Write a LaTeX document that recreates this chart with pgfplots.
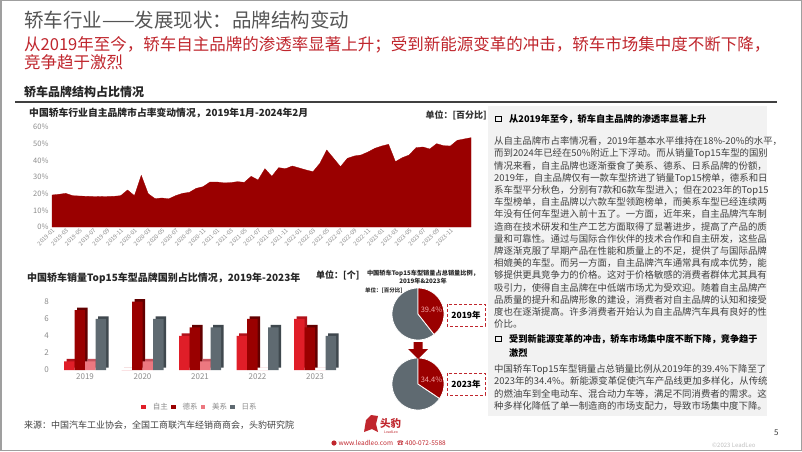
\documentclass[border=0pt]{standalone}
\usepackage{fontspec}
\setmainfont{Noto Sans CJK SC}
\usepackage{pgfplots}
\pgfplotsset{compat=1.18}
\XeTeXlinebreaklocale "zh"
\definecolor{areared}{HTML}{9A0000}
\definecolor{zizhu}{HTML}{E01E28}
\definecolor{zizhuside}{HTML}{B0121A}
\definecolor{dexi}{HTML}{9A0000}
\definecolor{dexiside}{HTML}{620000}
\definecolor{meixi}{HTML}{EC7880}
\definecolor{meixiside}{HTML}{C8545E}
\definecolor{rixi}{HTML}{5F6A71}
\definecolor{rixiside}{HTML}{3F484E}
\definecolor{titlegray}{HTML}{555555}
\definecolor{subred}{HTML}{C0262D}
\definecolor{boxgray}{HTML}{F2F2F2}
\definecolor{tickgray}{HTML}{8C8C8C}
\definecolor{textgray}{HTML}{404040}
\definecolor{pielabel}{HTML}{F4A6A6}
\pgfplotsset{sq legend/.style={legend image code/.code={\fill[##1] (0pt,-2.3pt) rectangle (4.6pt,2.3pt);}}}
\newcommand{\pl}[3][494]{\node[anchor=base west, inner sep=0, font=\fontsize{9.4}{10}\selectfont, text=textgray] at (#1, {451-#2-3.6}) {#3};}
\newcommand{\bl}[3][509]{\node[anchor=base west, inner sep=0, font=\bfseries\fontsize{9.2}{10}\selectfont, text=black] at (#1, {451-#2-3.5}) {#3};}
\begin{document}
\begin{tikzpicture}[x=1pt,y=1pt]
\path[use as bounding box] (0,0) rectangle (802,451);
\fill[white] (0,0) rectangle (802,451);
\draw[gray!75, line width=1.5pt] (0.75,0.75) rectangle (801.25,450.25);
% titles
\node[anchor=base west, inner sep=0, font=\fontsize{19.5}{20}\selectfont, text=titlegray] at (24, {451-27.4}) {轿车行业——发展现状：品牌结构变动};
\node[anchor=base west, inner sep=0, font=\fontsize{16.5}{17}\selectfont, text=subred] at (24, {451-50.3}) {从2019年至今，轿车自主品牌的渗透率显著上升；受到新能源变革的冲击，轿车市场集中度不断下降，};
\node[anchor=base west, inner sep=0, font=\fontsize{16.5}{17}\selectfont, text=subred] at (24, {451-68.3}) {竞争趋于激烈};
\node[anchor=base west, inner sep=0, font=\bfseries\fontsize{12}{12}\selectfont, text=black!85] at (24, {451-96.5}) {轿车品牌结构占比情况};
\draw[line width=1.3pt, black!75] (15, {451-102}) -- (777, {451-102});
% right text box
\fill[boxgray] (488, {451-106}) rectangle (767, {451-416});
\draw[black, line width=1pt] (495.5, {451-116}) rectangle (501, {451-121.5});
\bl{119}{从2019年至今，轿车自主品牌的渗透率显著上升}
\pl{141}{从自主品牌市占率情况看，2019年基本水平维持在18\%-20\%的水平，}
\pl{153.2}{而到2024年已经在50\%附近上下浮动。而从销量Top15车型的国别}
\pl{165.4}{情况来看，自主品牌也逐渐蚕食了美系、德系、日系品牌的份额，}
\pl{177.6}{2019年，自主品牌仅有一款车型挤进了销量Top15榜单，德系和日}
\pl{189.8}{系车型平分秋色，分别有7款和6款车型进入；但在2023年的Top15}
\pl{202}{车型榜单，自主品牌以六款车型领跑榜单，而美系车型已经连续两}
\pl{214.2}{年没有任何车型进入前十五了。一方面，近年来，自主品牌汽车制}
\pl{226.4}{造商在技术研发和生产工艺方面取得了显著进步，提高了产品的质}
\pl{238.6}{量和可靠性。通过与国际合作伙伴的技术合作和自主研发，这些品}
\pl{250.8}{牌逐渐克服了早期产品在性能和质量上的不足，提供了与国际品牌}
\pl{263}{相媲美的车型。而另一方面，自主品牌汽车通常具有成本优势，能}
\pl{275.2}{够提供更具竞争力的价格。这对于价格敏感的消费者群体尤其具有}
\pl{287.4}{吸引力，使得自主品牌在中低端市场尤为受欢迎。随着自主品牌产}
\pl{299.6}{品质量的提升和品牌形象的建设，消费者对自主品牌的认知和接受}
\pl{311.8}{度也在逐渐提高。许多消费者开始认为自主品牌汽车具有良好的性}
\pl{324}{价比。}
\draw[black, line width=1pt] (495.5, {451-336}) rectangle (501, {451-341.5});
\bl{339}{受到新能源变革的冲击，轿车市场集中度不断下降，竞争趋于}
\bl{353}{激烈}
\pl{369}{中国轿车Top15车型销量占总销量比例从2019年的39.4\%下降至了}
\pl{381.3}{2023年的34.4\%。新能源变革促使汽车产品线更加多样化，从传统}
\pl{393.6}{的燃油车到全电动车、混合动力车等，满足不同消费者的需求。这}
\pl{406}{种多样化降低了单一制造商的市场支配力，导致市场集中度下降。}
% chart titles
\node[anchor=base west, inner sep=0, font=\bfseries\fontsize{9.8}{10}\selectfont, text=black!85] at (29, {451-116.7}) {中国轿车行业自主品牌市占率变动情况，2019年1月-2024年2月};
\node[anchor=base east, inner sep=0, font=\bfseries\fontsize{9}{10}\selectfont, text=black!80] at (487, {451-118.4}) {单位：[百分比]};
\node[anchor=base west, inner sep=0, font=\bfseries\fontsize{10}{10}\selectfont, text=black!85] at (27, {451-281}) {中国轿车销量Top15车型品牌国别占比情况，2019年-2023年};
\node[anchor=base west, inner sep=0, font=\bfseries\fontsize{9}{10}\selectfont, text=black!85] at (316, {451-278.5}) {单位：[个]};
\node[anchor=base, inner sep=0, font=\bfseries\fontsize{6.2}{7}\selectfont, text=black!85] at (423, {451-275.5}) {中国轿车Top15车型销量占总销量比例，};
\node[anchor=base, inner sep=0, font=\bfseries\fontsize{6.2}{7}\selectfont, text=black!85] at (423, {451-283.3}) {2019年\&2023年};
\node[anchor=base west, inner sep=0, font=\bfseries\fontsize{5.5}{6}\selectfont, text=black!80] at (365, {451-292}) {单位：[百分比]};
% area chart
\begin{axis}[at={(52pt,224pt)}, anchor=south west, scale only axis,
  width=419pt, height=100pt, xmin=0, xmax=61, ymin=0, ymax=60,
  axis line style={draw=none}, major tick length=0pt, clip=false,
  ytick={0,10,20,30,40,50,60}, yticklabels={0\%,10\%,20\%,30\%,40\%,50\%,60\%},
  yticklabel style={font=\fontsize{7.5}{8}\selectfont, text=tickgray},
  xtick={0,2,...,58},
  xticklabels={2019-01,2019-03,2019-05,2019-07,2019-09,2019-11,2020-01,2020-03,2020-05,2020-07,2020-09,2020-11,2021-01,2021-03,2021-05,2021-07,2021-09,2021-11,2022-01,2022-03,2022-05,2022-07,2022-09,2022-11,2023-01,2023-03,2023-05,2023-07,2023-09,2023-11},
  xticklabel style={font=\fontsize{5.8}{6}\selectfont, text=tickgray, rotate=45, anchor=north east, inner sep=0.5pt}]
\addplot[fill=areared, draw=areared, line width=0.3pt] coordinates {
(0,19.2)(1,19.6)(2,20.2)(3,18.8)(4,18.6)(5,18.4)(6,18.3)(7,18.2)(8,18.3)(9,18.4)
(10,18.8)(11,22.2)(12,18.8)(13,31.0)(14,20.0)(15,17.0)(16,17.4)(17,16.9)(18,18.8)(19,20.2)
(20,20.8)(21,23.2)(22,24.2)(23,27.0)(24,27.0)(25,26.5)(26,26.6)(27,27.2)(28,26.8)(29,30.4)
(30,28.2)(31,35.0)(32,30.4)(33,35.6)(34,35.0)(35,36.6)(36,35.4)(37,34.2)(38,33.2)(39,38.2)
(40,46.2)(41,41.2)(42,36.2)(43,41.2)(44,42.6)(45,43.2)(46,45.0)(47,47.2)(48,48.6)(49,49.6)
(50,39.2)(51,41.6)(52,43.2)(53,47.6)(54,48.0)(55,46.8)(56,50.0)(57,48.8)(58,48.6)(59,52.0)
(60,52.8)(61,53.6)} \closedcycle;
\end{axis}
% bar chart
\begin{axis}[at={(56.25pt,81pt)}, anchor=south west, scale only axis,
  width=287.5pt, height=68.3pt, xmin=-0.5, xmax=4.5, ymin=0, ymax=8,
  axis line style={draw=none}, major tick length=0pt, clip=false,
  ytick={0,2,4,6,8}, yticklabels={0,2,4,6,8},
  xtick={0,1,2,3,4}, xticklabels={2019,2020,2021,2022,2023},
  tick label style={font=\fontsize{8}{9}\selectfont, text=tickgray},
  yticklabel style={xshift=-4pt},
  legend style={at={(0.5,-0.54)}, anchor=center, legend columns=-1, draw=none, fill=none,
    font=\fontsize{7.5}{8}\selectfont, text=tickgray, inner sep=0pt,
    /tikz/every even column/.append style={column sep=1pt},
    /tikz/every odd column/.append style={column sep=5pt}}]
\addplot[ybar, bar width=10.5pt, bar shift=-15.75pt, fill=zizhuside, draw=none, xshift=2.5pt, yshift=2.5pt, forget plot] coordinates {(0,1)(1,0)(2,4)(3,4)(4,6)};
\addplot[ybar, sq legend, bar width=10.5pt, bar shift=-15.75pt, fill=zizhu, draw=none] coordinates {(0,1)(1,0)(2,4)(3,4)(4,6)};
\addlegendentry{自主}
\addplot[ybar, bar width=10.5pt, bar shift=-5.25pt, fill=dexiside, draw=none, xshift=2.5pt, yshift=2.5pt, forget plot] coordinates {(0,7)(1,8)(2,5)(3,6)(4,5)};
\addplot[ybar, sq legend, bar width=10.5pt, bar shift=-5.25pt, fill=dexi, draw=none] coordinates {(0,7)(1,8)(2,5)(3,6)(4,5)};
\addlegendentry{德系}
\addplot[ybar, bar width=10.5pt, bar shift=5.25pt, fill=meixiside, draw=none, xshift=2.5pt, yshift=2.5pt, forget plot] coordinates {(0,1)(1,1)(2,1)(3,0)(4,0)};
\addplot[ybar, sq legend, bar width=10.5pt, bar shift=5.25pt, fill=meixi, draw=none] coordinates {(0,1)(1,1)(2,1)(3,0)(4,0)};
\addlegendentry{美系}
\addplot[ybar, bar width=10.5pt, bar shift=15.75pt, fill=rixiside, draw=none, xshift=2.5pt, yshift=2.5pt, forget plot] coordinates {(0,6)(1,6)(2,5)(3,5)(4,4)};
\addplot[ybar, sq legend, bar width=10.5pt, bar shift=15.75pt, fill=rixi, draw=none] coordinates {(0,6)(1,6)(2,5)(3,5)(4,4)};
\addlegendentry{日系}
\end{axis}
% pies
\begin{axis}[at={(418pt,137pt)}, anchor=center, scale only axis, width=52pt, height=52pt,
  xmin=-1, xmax=1, ymin=-1, ymax=1, hide axis, clip=false]
\addplot[fill=rixi, draw=white, line width=0.8pt, domain={90-360}:{90-3.6*39.4}, samples=80, variable=\t] ({cos(\t)},{sin(\t)}) -- (axis cs:0,0) -- cycle;
\addplot[fill=areared, draw=white, line width=0.8pt, domain={90-3.6*39.4}:90, samples=60, variable=\t] ({cos(\t)},{sin(\t)}) -- (axis cs:0,0) -- cycle;
\node[text=pielabel, font=\fontsize{7.5}{8}\selectfont, inner sep=0] at (axis cs:0.52,0.16) {39.4\%};
\end{axis}
\begin{axis}[at={(418pt,67pt)}, anchor=center, scale only axis, width=52pt, height=52pt,
  xmin=-1, xmax=1, ymin=-1, ymax=1, hide axis, clip=false]
\addplot[fill=rixi, draw=white, line width=0.8pt, domain={90-360}:{90-3.6*34.4}, samples=80, variable=\t] ({cos(\t)},{sin(\t)}) -- (axis cs:0,0) -- cycle;
\addplot[fill=areared, draw=white, line width=0.8pt, domain={90-3.6*34.4}:90, samples=60, variable=\t] ({cos(\t)},{sin(\t)}) -- (axis cs:0,0) -- cycle;
\node[text=pielabel, font=\fontsize{7.5}{8}\selectfont, inner sep=0] at (axis cs:0.52,0.16) {34.4\%};
\end{axis}
% arrow and boxes
\fill[areared] (413.5,{451-342}) -- (422.5,{451-342}) -- (422.5,{451-349}) -- (428,{451-349}) -- (418,{451-359}) -- (408,{451-349}) -- (413.5,{451-349}) -- cycle;
\draw[subred, line width=1pt, dash pattern=on 3pt off 2pt] (447,{451-304}) rectangle (485,{451-326});
\node[font=\bfseries\fontsize{8.5}{9}\selectfont, text=black, inner sep=0] at (466,{451-315}) {2019年};
\draw[subred, line width=1pt, dash pattern=on 3pt off 2pt] (447,{451-373}) rectangle (485,{451-395});
\node[font=\bfseries\fontsize{8.5}{9}\selectfont, text=black, inner sep=0] at (466,{451-384}) {2023年};
% footer
\node[anchor=base west, inner sep=0, font=\fontsize{9}{10}\selectfont, text=textgray] at (24, {451-428.4}) {来源：中国汽车工业协会，全国工商联汽车经销商商会，头豹研究院};
\fill[subred] (364,{451-432}) -- (366,{451-420}) -- (371,{451-415}) -- (378,{451-416}) -- (376,{451-424}) -- (378,{451-432}) -- (372,{451-429}) -- cycle;
\node[anchor=base west, inner sep=0, font=\bfseries\fontsize{10.5}{11}\selectfont, text=subred] at (380, {451-427}) {头豹};
\node[anchor=base west, inner sep=0, font=\fontsize{3.5}{4}\selectfont, text=subred] at (384, {451-433.5}) {LeadLeo};
\fill[subred] (334,{451-443}) circle (2.6pt);
\node[anchor=base west, inner sep=0, font=\fontsize{6.5}{7}\selectfont, text=subred] at (338.5, {451-445.5}) {www.leadleo.com};
\node[anchor=base west, inner sep=0, font=\fontsize{6.5}{7}\selectfont, text=subred] at (397, {451-445.5}) {\char"260E{} 400-072-5588};
\node[anchor=base west, inner sep=0, font=\fontsize{8}{9}\selectfont, text=textgray] at (774, {451-435}) {5};
\node[anchor=base west, inner sep=0, font=\fontsize{6}{7}\selectfont, text=black!25] at (712, {451-447}) {©2023 LeadLeo};
\end{tikzpicture}
\end{document}
